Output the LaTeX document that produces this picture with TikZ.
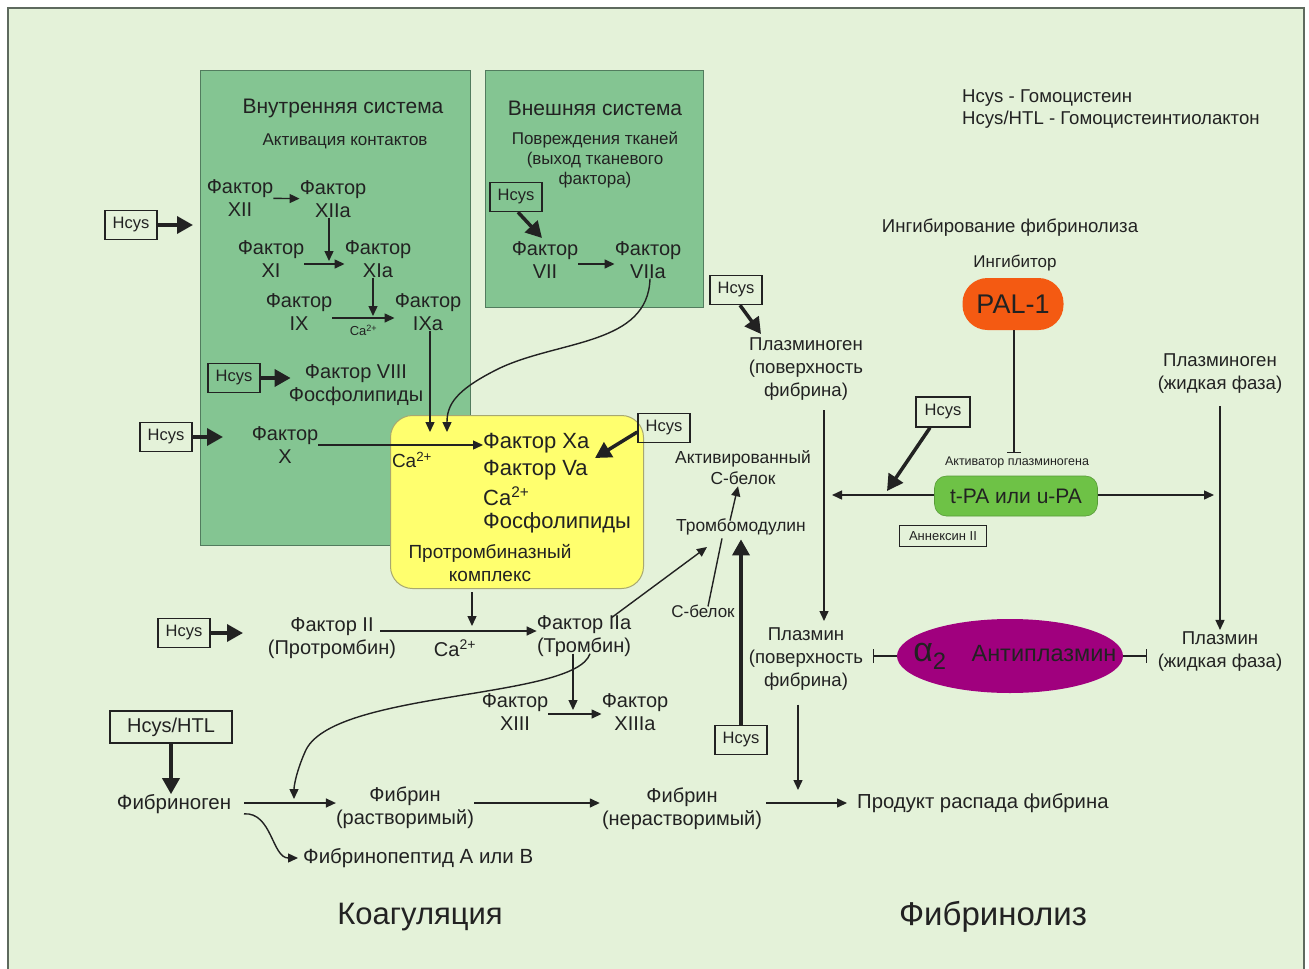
\documentclass[tikz,border=0pt]{standalone}
\usepackage{fontspec}
\setmainfont{Liberation Sans}
\usetikzlibrary{arrows.meta,shapes.geometric}
\definecolor{bg}{HTML}{E4F2D9}
\definecolor{frm}{HTML}{5E6A5E}
\definecolor{gbox}{HTML}{84C592}
\definecolor{gline}{HTML}{527C5E}
\definecolor{ybox}{HTML}{FFFF6E}
\definecolor{yline}{HTML}{A8A870}
\definecolor{pal}{HTML}{F45A12}
\definecolor{tpa}{HTML}{6EC246}
\definecolor{alp}{HTML}{A0007E}
\definecolor{txt}{HTML}{222222}
\newcommand\myfs[2]{\fontsize{#1}{#2}\selectfont}
\tikzset{
  t/.style={font=\myfs{20}{23}, align=center, inner sep=0pt, text=txt},
  tb/.style={font=\myfs{22}{26.5}, inner sep=0pt, text=txt, anchor=west},
  ts/.style={font=\myfs{18.6}{23}, align=center, inner sep=0pt, text=txt},
  tx/.style={font=\myfs{17}{20}, align=center, inner sep=0pt, text=txt},
  ttl/.style={font=\myfs{21}{24}, inner sep=0pt, text=txt},
  hc/.style={draw=txt, line width=1.4, font=\myfs{16.5}{18}, text=txt, minimum width=52, minimum height=29, inner sep=0pt},
  ar/.style={-{Triangle[length=10,width=9]}, line width=1.4, draw=txt},
  tar/.style={-{Triangle[length=16,width=17]}, line width=3.5, draw=txt},
  inh/.style={-{Bar[width=14]}, line width=1.4, draw=txt},
}
\begin{document}
\begin{tikzpicture}[x=1pt,y=-1pt]
\useasboundingbox (0,0) rectangle (1309,969);
\fill[white] (0,0) rectangle (1309,969);
\fill[bg] (8,8) rectangle (1304,969);
\draw[frm, line width=1.6] (8,975) -- (8,8) -- (1304,8) -- (1304,975);

% ---------- green boxes
\draw[gline, fill=gbox, line width=1] (200,70) rectangle (470,545);
\draw[gline, fill=gbox, line width=1] (485,70) rectangle (703,307);

% ---------- intrinsic system
\node[ttl] (ititle) at (343,108) {Внутренняя система};
\node[tx] (isub) at (345,141) {Активация контактов};
\node[t] (f12) at (240,198) {Фактор\\XII};
\node[t] (f12a) at (333,199) {Фактор\\XIIa};
\node[t] (f11) at (271,259) {Фактор\\XI};
\node[t] (f11a) at (378,259) {Фактор\\XIa};
\node[t] (f9) at (299,312) {Фактор\\IX};
\node[t] (f9a) at (428,312) {Фактор\\IXa};
\node[t] (f8) at (356,385) {Фактор VIII\\Фосфолипиды};
\node[t] (f10) at (285,445) {Фактор\\X};
\coordinate (j1) at (329,261);
\coordinate (j2) at (373,316);
\draw[ar] (f12) -- (f12a);
\draw[ar] (f12a.south -| j1) -- (j1);
\draw[ar] ([yshift=-5pt]f11.east) -- ([yshift=-5pt]f11a.west);
\draw[ar] (f11a.south -| j2) -- (j2);
\draw[ar] ([yshift=-6pt]f9.east) -- ([yshift=-6pt]f9a.west)
  node[midway, below=3pt, font=\myfs{13}{14}, text=txt] {Ca\textsuperscript{2+}};

\node[hc] (h1) at (131,225) {Hcys};
\coordinate (h1t) at (193,225);
\draw[tar] (h1.east) -- (h1t);
\node[hc] (h2) at (234,378) {Hcys};
\draw[tar] (h2.east) -- ([xshift=2pt]f8.west |- h2.east);
\node[hc] (h3) at (166,437) {Hcys};
\coordinate (h3t) at (223,437);
\draw[tar] (h3.east) -- (h3t);

% ---------- extrinsic system
\node[ttl] (etitle) at (595,108) {Внешняя система};
\node[tx] (esub) at (595,160) {Повреждения тканей\\(выход тканевого\\фактора)};
\node[hc] (h4) at (516,197) {Hcys};
\node[t] (f7) at (545,260) {Фактор\\VII};
\node[t] (f7a) at (648,260) {Фактор\\VIIa};
\coordinate (h4t) at (542,238);
\draw[tar] ([xshift=2pt]h4.south) -- (h4t);
\draw[ar] ([yshift=-4pt]f7.east) -- ([yshift=-4pt]f7a.west);

% ---------- prothrombinase complex
\node[draw=yline, fill=ybox, line width=1, rounded corners=22, minimum width=253, minimum height=173, anchor=north west, inner sep=0pt] (pro) at (390,415) {};
\node[font=\myfs{19}{20}, text=txt, inner sep=0pt] (ca1) at (412,460) {Ca\textsuperscript{2+}};
\node[tb] (xa) at (483,443) {Фактор Xa};
\node[tb] (va) at (483,470) {Фактор Va};
\node[tb] (ca2) at (483,496) {Ca\textsuperscript{2+}};
\node[tb] (phl) at (483,523) {Фосфолипиды};
\node[font=\myfs{19}{23}, align=center, inner sep=0pt, text=txt] (prl) at (490,563) {Протромбиназный\\комплекс};
\coordinate (pin1) at (430,432);
\coordinate (pin2) at (447,432);
\draw[ar] (f9a.south -| pin1) -- (pin1);
\draw[ar] ([xshift=2pt]f7a.south) .. controls (648,345) and (560,340) .. (500,368)
   .. controls (455,390) and (447,405) .. (pin2);
\draw[ar] (f10.east) -- (f10.east -| xa.west);
\node[hc] (h5) at (664,428) {Hcys};
\coordinate (h5t) at (595,458);
\draw[tar] ([yshift=-4pt]h5.west) -- (h5t);

% ---------- legend & fibrinolysis
\node[font=\myfs{18.6}{22}, text=txt, align=left, anchor=west, inner sep=0pt] (leg) at (962,109) {Hcys - Гомоцистеин\\Hcys/HTL - Гомоцистеинтиолактон};
\node[ts] (inhf) at (1010,228) {Ингибирование фибринолиза};
\node[tx] (inhb) at (1015,263) {Ингибитор};
\node[fill=pal, rounded corners=25, minimum width=101, minimum height=52, inner sep=0pt, font=\myfs{27}{28}, text=txt] (pal) at (1013,304) {PAL-1};
\node[font=\myfs{12.5}{13}, text=txt, inner sep=0pt] (act) at (1017,462) {Активатор плазминогена};
\node[fill=tpa, draw=tpa!80!black, line width=0.6, rounded corners=12, minimum width=163, minimum height=40, inner sep=0pt, font=\myfs{21}{22}, text=txt] (tpa) at (1016,496) {t-PA или u-PA};
\coordinate (palend) at (1014,453);
\draw[inh] (pal.south -| palend) -- (palend);
\coordinate (lft) at (832,495);
\coordinate (rgt) at (1214,495);
\draw[ar] (tpa.west |- lft) -- (lft);
\draw[ar] (tpa.east |- rgt) -- (rgt);
\node[hc, minimum width=54, minimum height=30] (h6) at (943,412) {Hcys};
\coordinate (h6t) at (887,491);
\draw[tar] ([xshift=-13pt]h6.south) -- (h6t);
\node[draw=txt, line width=1, minimum width=87, minimum height=21, inner sep=0pt, font=\myfs{13}{13}, text=txt] (anx) at (943,536) {Аннексин II};

\node[ts] (pgs) at (806,369) {Плазминоген\\(поверхность\\фибрина)};
\node[hc] (h7) at (736,290) {Hcys};
\coordinate (h7t) at (761,334);
\draw[tar] ([xshift=4pt]h7.south) -- (h7t);
\node[ts] (pgl) at (1220,374) {Плазминоген\\(жидкая фаза)};
\node[ts] (pms) at (806,659) {Плазмин\\(поверхность\\фибрина)};
\node[ts] (pml) at (1220,652) {Плазмин\\(жидкая фаза)};
\coordinate (vx1) at (824,410);
\coordinate (vx2) at (824,621);
\draw[ar] (vx1) -- (vx2);
\draw[ar] (pgl.south) ++(0,12) -- ([yshift=2pt]pml.north);

\node[ellipse, fill=alp, minimum width=226, minimum height=74, inner sep=0pt] (alpha) at (1010,656) {};
\node[font=\myfs{34}{35}, text=txt, inner sep=0pt] (a2) at (930,656) {α\textsubscript{2}};
\node[font=\myfs{23.5}{24}, text=txt, inner sep=0pt] (antp) at (1044,654) {Антиплазмин};
\coordinate (bl) at (873,656);
\coordinate (br) at (1147,656);
\draw[inh] (alpha.west) -- (bl);
\draw[inh] (alpha.east) -- (br);

% ---------- protein C
\node[font=\myfs{17.4}{21}, align=center, inner sep=0pt, text=txt] (apc) at (743,468) {Активированный\\С-белок};
\node[font=\myfs{17.4}{18}, inner sep=0pt, text=txt] (tm) at (741,527) {Тромбомодулин};
\node[font=\myfs{17}{18}, inner sep=0pt, text=txt] (cb) at (703,611) {С-белок};
\draw[ar] ([xshift=-11pt,yshift=-2pt]tm.north) -- ([xshift=-5pt,yshift=-1pt]apc.south);
\draw[line width=1.4, txt] ([xshift=5pt,yshift=-2pt]cb.north) -- ([xshift=-19pt,yshift=-3pt]tm.south);
\node[hc] (h8) at (741,740) {Hcys};
\draw[tar] (h8.north) -- ([yshift=-4pt]tm.south);

% ---------- thrombin
\node[hc] (h9) at (184,633) {Hcys};
\coordinate (h9t) at (243,633);
\draw[tar] (h9.east) -- (h9t);
\node[t] (f2) at (332,638) {Фактор II\\(Протромбин)};
\node[t] (f2a) at (584,636) {Фактор IIa\\(Тромбин)};
\node[t] (ca3) at (455,648) {Ca\textsuperscript{2+}};
\coordinate (f2s) at (380,631);
\draw[ar] (f2s) -- (f2a.west |- f2s);
\coordinate (j3) at (472,626);
\draw[ar] (pro.south -| j3) ++(0,3) -- (j3);
\coordinate (j4) at (573,710);
\draw[ar] ([xshift=-11pt,yshift=3pt]f2a.south) -- (j4);
\coordinate (tmin) at (707,547);
\draw[ar] ([xshift=28pt,yshift=-2pt]f2a.north) -- (tmin);
\node[t] (f13) at (515,712) {Фактор\\XIII};
\node[t] (f13a) at (635,712) {Фактор\\XIIIa};
\draw[ar] ([yshift=-2pt]f13.east) -- ([yshift=-2pt]f13a.west);

% ---------- fibrin
\node[draw=txt, line width=1.4, minimum width=122, minimum height=32, inner sep=0pt, font=\myfs{20}{22}, text=txt] (hh) at (171,727) {Hcys/HTL};
\node[font=\myfs{20.5}{23}, inner sep=0pt, text=txt] (fg) at (174,804) {Фибриноген};
\draw[tar] (hh.south) -- (hh.south |- fg.north);
\node[t] (fsol) at (405,808) {Фибрин\\(растворимый)};
\node[t] (fins) at (682,809) {Фибрин\\(нерастворимый)};
\node[font=\myfs{20.5}{23}, inner sep=0pt, text=txt, anchor=west] (fp) at (303,858) {Фибринопептид А или В};
\node[font=\myfs{20.3}{22}, text=txt, inner sep=0pt, anchor=west] (prod) at (857,803) {Продукт распада фибрина};
\coordinate (fa) at (244,803);
\draw[ar] (fa) -- (fsol.west |- fa);
\draw[ar] (fa |- fg.south) .. controls (272,812) and (272,858) .. ([xshift=-5pt]fp.west);
\draw[ar] ([xshift=6pt,yshift=3pt]f2a.south) .. controls (575,700) and (330,690) .. (305,752)
   .. controls (297,770) and (294,785) .. (294,799);
\draw[ar] (fsol.east |- fa) -- ([xshift=-2pt]fins.west |- fa);
\draw[ar] ([xshift=4pt]fins.east |- prod.west) -- ([xshift=-10pt]prod.west);
\coordinate (fdp) at (798,790);
\draw[ar] ([xshift=-8pt,yshift=-14pt]pms.south) -- (fdp);

\node[font=\myfs{31}{32}, text=txt, inner sep=0pt] (coag) at (420,917) {Коагуляция};
\node[font=\myfs{33}{34}, text=txt, inner sep=0pt] (fibl) at (993,917) {Фибринолиз};
\end{tikzpicture}
\end{document}
